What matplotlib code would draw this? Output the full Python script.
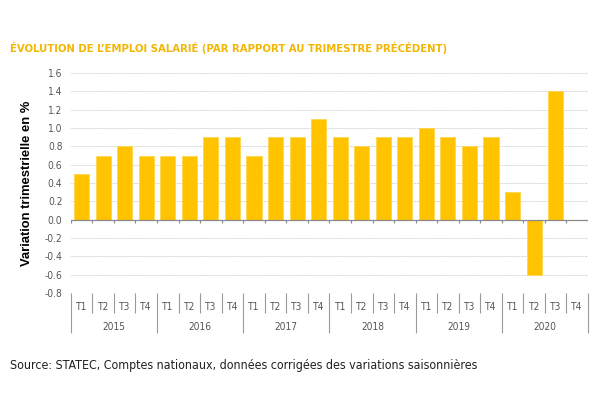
import matplotlib
matplotlib.use("Agg")
import matplotlib.pyplot as plt
import matplotlib.transforms as mtransforms
import numpy as np

years = ["2015", "2016", "2017", "2018", "2019", "2020"]
quarters = ["T1", "T2", "T3", "T4"]
values = [0.5, 0.7, 0.8, 0.7,
          0.7, 0.7, 0.9, 0.9,
          0.7, 0.9, 0.9, 1.1,
          0.9, 0.8, 0.9, 0.9,
          1.0, 0.9, 0.8, 0.9,
          0.3, -0.6, 1.4, np.nan]
yticks = [-0.8, -0.6, -0.4, -0.2, 0.0, 0.2, 0.4, 0.6, 0.8, 1.0, 1.2, 1.4, 1.6]

cond = dict(family="DejaVu Sans", stretch="condensed")
bar_color = "#FFC300"
grey = "#555555"

fig = plt.figure(figsize=(6, 4.09), dpi=100)
ax = fig.add_axes([0.118, 0.2836, 0.862, 0.5379])

n = len(values)
x = np.arange(n)
ax.bar(x, values, width=0.7, color=bar_color, edgecolor="#FFD64D", linewidth=0.6, zorder=3)

ax.set_xlim(-0.5, n - 0.5)
ax.set_ylim(-0.8, 1.6)
ax.set_yticks(yticks)
ax.set_yticklabels([f"{t:.1f}" for t in yticks], fontsize=7.3, color=grey, **cond)
ax.tick_params(axis="y", length=0, pad=6)
ax.set_xticks([])
for s in ax.spines.values():
    s.set_visible(False)

for t in yticks:
    if t != 0:
        ax.axhline(t, color="#a8a8a8", linewidth=0.5, linestyle=(0, (1, 1.2)), zorder=1)
ax.axhline(0, color="#8a8a8a", linewidth=0.9, zorder=4)

# small ticks under the zero line
bounds = np.arange(n + 1) - 0.5
trans = mtransforms.blended_transform_factory(ax.transData, ax.transAxes)
zero_frac = 0.8 / 2.4
ax.vlines(bounds, zero_frac - 0.014, zero_frac, color="#8a8a8a", linewidth=0.8, transform=trans, zorder=4)

# category table below the axes
for i, b in enumerate(bounds):
    if i % 4 == 0:
        ax.vlines(b, -0.182, 0, color="#9a9a9a", linewidth=0.8, transform=trans, clip_on=False)
    else:
        ax.vlines(b, -0.091, 0, color="#9a9a9a", linewidth=0.8, transform=trans, clip_on=False)
for i in range(n):
    ax.text(i, -0.062, quarters[i % 4], transform=trans, ha="center", va="center",
            fontsize=7.3, color=grey, **cond)
for j, yr in enumerate(years):
    ax.text(4 * j + 1.5, -0.155, yr, transform=trans, ha="center", va="center",
            fontsize=7.3, color=grey, **cond)

ax.set_ylabel("Variation trimestrielle en %", fontsize=9.4, fontweight="bold",
              family="Liberation Sans")
ax.yaxis.set_label_coords(-0.073, 0.5)

fig.text(10 / 600, 1 - 48 / 409, "ÉVOLUTION DE L\u2019EMPLOI SALARIÉ (PAR RAPPORT AU TRIMESTRE PRÉCÉDENT)",
         fontsize=8.1, fontweight="bold", color="#F2B705", va="center", ha="left", **cond)
fig.text(10 / 600, 1 - 366 / 409, "Source: STATEC, Comptes nationaux, données corrigées des variations saisonnières",
         fontsize=8.9, color="#222222", va="center", ha="left", **cond)

fig.savefig("out.png", dpi=100)
